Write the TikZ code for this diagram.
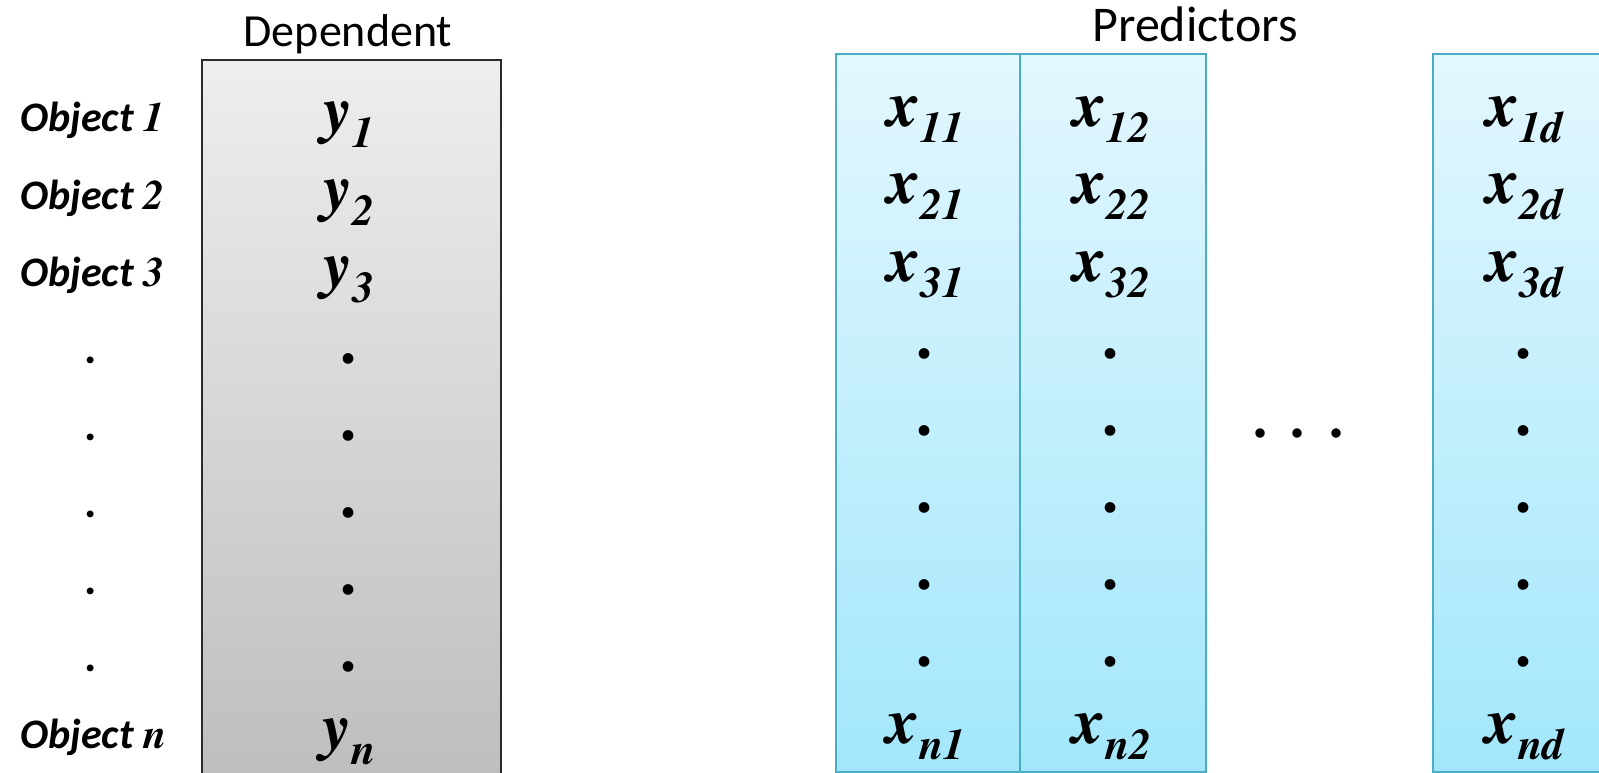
\documentclass[tikz,border=0pt]{standalone}
\usepackage[T1]{fontenc}
\usepackage{fontspec}
\newfontfamily\labelfont{Carlito}
\usetikzlibrary{positioning}
\newcommand{\timesbi}{\fontencoding{T1}\fontfamily{ptm}\fontseries{b}\fontshape{it}\selectfont}
\newcommand{\timesb}{\fontencoding{T1}\fontfamily{ptm}\fontseries{b}\fontshape{n}\selectfont}
\definecolor{graytop}{HTML}{EEEEEE}
\definecolor{graybot}{HTML}{BDBDBD}
\definecolor{grayline}{HTML}{2A2A2A}
\definecolor{bluetop}{HTML}{E3F7FE}
\definecolor{bluebot}{HTML}{A2E7FB}
\definecolor{blueline}{HTML}{4BACC6}
\tikzset{
  depcol/.style = {draw=grayline, line width=1.8pt, top color=graytop, bottom color=graybot},
  predcol/.style = {draw=blueline, line width=1.8pt, top color=bluetop, bottom color=bluebot},
  entry/.style = {anchor=base, inner sep=0},
  heading/.style = {anchor=base, inner sep=0},
  objlabel/.style = {anchor=base west, inner sep=0, font=\fontsize{42}{42}\selectfont\labelfont\bfseries\itshape}
}
\newcommand{\cellvar}[2]{{\fontsize{65}{65}\timesbi #1\raisebox{-16pt}{\fontsize{44}{44}\selectfont #2}}}
\newcommand{\dotmark}{{\fontsize{64}{64}\timesb .}}

\begin{document}
\begin{tikzpicture}[x=1pt, y=-1pt]
    \useasboundingbox (0, 0) rectangle (1599, 773);
    \clip (0, 0) rectangle (1599, 773);

    % columns
    \draw [depcol] (202, 60) rectangle (501, 790);
    \draw [predcol] (836, 54) rectangle (1020, 772);
    \draw [predcol] (1020, 54) rectangle (1206, 772);
    \draw [predcol] (1433, 54) rectangle (1618, 772);

    % headings
    \node [heading, font=\fontsize{46}{46}\selectfont\labelfont] (dep) at (348, 47) {Dependent};
    \node [heading, font=\fontsize{50}{50}\selectfont\labelfont] (pred) at (1195, 42) {Predictors};

    % object labels
    \foreach \o/\k in {1/0, 2/1, 3/2, n/8}
        \node [objlabel] (obj\o) at (20, {132+77*\k}) {Object {\timesbi \o}};
    \foreach \k in {3,...,7}
        \node [objlabel, anchor=base, font=\fontsize{46}{46}\selectfont\labelfont\bfseries]
            (objdot\k) at (91, {132+77*\k}) {.};

    % dependent column
    \foreach \r/\k in {1/0, 2/1, 3/2, n/8}
        \node [entry] (y\r) at (349, {132+77*\k}) {\cellvar{y}{\r}};
    \foreach \k in {3,...,7}
        \node [entry] (ydot\k) at (348, {132+77*\k}) {\dotmark};

    % predictor columns
    \foreach \c/\cx in {1/926, 2/1112, d/1525} {
        \foreach \r/\k in {1/0, 2/1, 3/2, n/8}
            \node [entry] (x\r\c) at (\cx, {127+77*\k}) {\cellvar{x}{\r\c}};
        \foreach \k in {3,...,7}
            \node [entry] (xdot\c\k) at (\cx-2, {127+77*\k}) {\dotmark};
    }

    % skipped columns
    \node [entry] (gap) at (1298, 437)
        {\fontsize{56}{56}\timesb .\hspace{24pt}.\hspace{24pt}.};
\end{tikzpicture}
\end{document}
